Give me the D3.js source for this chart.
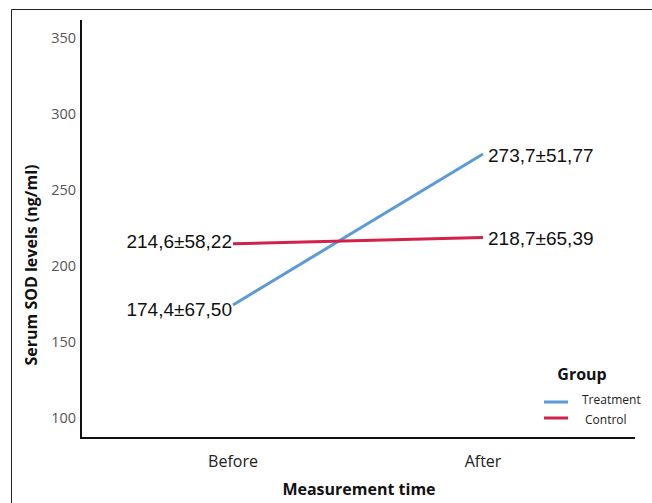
<!DOCTYPE html>
<html>
<head>
<meta charset="utf-8">
<script src="https://cdn.jsdelivr.net/npm/d3@7"></script>
<style>
  body { margin: 0; background: #fff; }
  svg { display: block; }
</style>
</head>
<body>
<svg id="chart" width="652" height="503"></svg>
<script>
// data
const times = ["Before", "After"];
const treatmentMeans = [174.4, 273.7];
const treatmentLabels = ["174,4±67,50", "273,7±51,77"];
const controlMeans = [214.6, 218.7];
const controlLabels = ["214,6±58,22", "218,7±65,39"];
const yTicks = [100, 150, 200, 250, 300, 350];
const groups = ["Treatment", "Control"];
const groupColors = ["#5b9bd8", "#d42149"];

const svg = d3.select("#chart");

// outer frame (only top and left visible in the crop)
svg.append("path")
  .attr("d", "M11.5,503 V9.5 H652")
  .attr("fill", "none")
  .attr("stroke", "#222")
  .attr("stroke-width", 1);

const x = d3.scalePoint()
  .domain(times)
  .range([233, 483]);

const y = d3.scaleLinear()
  .domain([100, 350])
  .range([418, 38]);

const axLeft = 81, axBottom = 438, axTop = 20, axRight = 635;

// axis lines
svg.append("line")
  .attr("x1", axLeft).attr("x2", axLeft)
  .attr("y1", axTop).attr("y2", axBottom)
  .attr("stroke", "#111").attr("stroke-width", 2);
svg.append("line")
  .attr("x1", axLeft - 1).attr("x2", axRight)
  .attr("y1", axBottom).attr("y2", axBottom)
  .attr("stroke", "#111").attr("stroke-width", 2);

// y tick labels, no tick marks
svg.append("g").selectAll("text")
  .data(yTicks)
  .enter().append("text")
  .attr("x", 76)
  .attr("y", (d) => y(d))
  .attr("dy", "0.35em")
  .attr("text-anchor", "end")
  .attr("font-family", "Open Sans, sans-serif")
  .attr("font-size", 14.5)
  .attr("fill", "#555")
  .text((d) => d);

// x tick labels
svg.append("g").selectAll("text")
  .data(times)
  .enter().append("text")
  .attr("x", (d) => x(d))
  .attr("y", 461)
  .attr("dy", "0.35em")
  .attr("text-anchor", "middle")
  .attr("font-family", "Open Sans, sans-serif")
  .attr("font-size", 16)
  .attr("fill", "#222")
  .text((d) => d);

// axis titles
svg.append("text")
  .attr("x", 359)
  .attr("y", 489)
  .attr("dy", "0.35em")
  .attr("text-anchor", "middle")
  .attr("font-family", "Open Sans, sans-serif")
  .attr("font-weight", "bold")
  .attr("font-size", 16)
  .attr("fill", "#111")
  .text("Measurement time");

svg.append("text")
  .attr("transform", "translate(31,265) rotate(-90)")
  .attr("dy", "0.35em")
  .attr("text-anchor", "middle")
  .attr("font-family", "Open Sans, sans-serif")
  .attr("font-weight", "bold")
  .attr("font-size", 16)
  .attr("fill", "#111")
  .text("Serum SOD levels (ng/ml)");

const line = d3.line()
  .x((d, i) => x(times[i]))
  .y((d) => y(d));

const series = [
  { name: groups[0], values: treatmentMeans, labels: treatmentLabels, color: groupColors[0] },
  { name: groups[1], values: controlMeans, labels: controlLabels, color: groupColors[1] }
];

series.forEach((s) => {
  svg.append("path")
    .datum(s.values)
    .attr("d", line)
    .attr("fill", "none")
    .attr("stroke", s.color)
    .attr("stroke-width", 3);

  // value labels: left of Before point, right of After point
  svg.append("text")
    .attr("x", x(times[0]) - 1)
    .attr("y", y(s.values[0]) + (s.name === "Treatment" ? 4 : -2))
    .attr("dy", "0.35em")
    .attr("text-anchor", "end")
    .attr("font-family", "Liberation Sans, Arial, sans-serif")
    .attr("font-size", 19)
    .attr("fill", "#111")
    .text(s.labels[0]);

  svg.append("text")
    .attr("x", x(times[1]) + 5)
    .attr("y", y(s.values[1]) + 1)
    .attr("dy", "0.35em")
    .attr("text-anchor", "start")
    .attr("font-family", "Liberation Sans, Arial, sans-serif")
    .attr("font-size", 19)
    .attr("fill", "#111")
    .text(s.labels[1]);
});

// legend
const legend = svg.append("g");
legend.append("text")
  .attr("x", 582)
  .attr("y", 374)
  .attr("dy", "0.35em")
  .attr("text-anchor", "middle")
  .attr("font-family", "Open Sans, sans-serif")
  .attr("font-weight", "bold")
  .attr("font-size", 16)
  .attr("fill", "#111")
  .text("Group");

legend.selectAll("line.key")
  .data(groups)
  .enter().append("line")
  .attr("class", "key")
  .attr("x1", 544).attr("x2", 568)
  .attr("y1", (d, i) => 402 + i * 16)
  .attr("y2", (d, i) => 402 + i * 16)
  .attr("stroke", (d, i) => groupColors[i])
  .attr("stroke-width", 3);

legend.selectAll("text.key")
  .data(groups)
  .enter().append("text")
  .attr("class", "key")
  .attr("x", (d, i) => i === 0 ? 582 : 585)
  .attr("y", (d, i) => 400 + i * 20)
  .attr("dy", "0.35em")
  .attr("font-family", "Open Sans, sans-serif")
  .attr("font-size", 12)
  .attr("fill", "#222")
  .text((d) => d);
</script>
</body>
</html>
